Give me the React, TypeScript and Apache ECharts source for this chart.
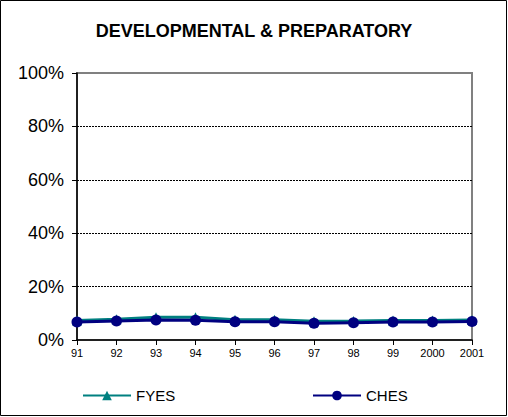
import React, { useEffect, useRef } from "react";
import * as echarts from "echarts";

const title = "DEVELOPMENTAL & PREPARATORY";
const years = ["91", "92", "93", "94", "95", "96", "97", "98", "99", "2000", "2001"];
const fyes = [7.3, 7.8, 8.5, 8.5, 7.6, 7.6, 7.0, 7.1, 7.3, 7.3, 7.5];
const ches = [6.7, 7.1, 7.5, 7.4, 6.8, 6.8, 6.3, 6.5, 6.7, 6.7, 6.9];

export default function App() {
  const ref = useRef<HTMLDivElement>(null);
  useEffect(() => {
    if (!ref.current) return;
    const chart = echarts.init(ref.current, null, { renderer: "svg" });
    chart.setOption({
      animation: false,
      backgroundColor: "#fff",
      textStyle: { fontFamily: "Liberation Sans, Arial, sans-serif" },
      title: {
        text: title,
        left: "center",
        top: 17,
        textStyle: { fontSize: 18, fontWeight: "bold", color: "#000", fontFamily: "Liberation Sans, Arial, sans-serif" },
      },
      graphic: [
        {
          type: "rect",
          shape: { x: 0.5, y: 0.5, width: 506, height: 415 },
          style: { fill: "none", stroke: "#000", lineWidth: 1 },
          silent: true,
        },
      ],
      grid: {
        left: 77,
        right: 36,
        top: 73,
        bottom: 77,
        show: true,
        borderColor: "#808080",
        borderWidth: 2,
        backgroundColor: "#fff",
      },
      legend: [
        {
          data: ["FYES"],
          left: 82,
          top: 388,
          padding: 0,
          itemWidth: 48,
          itemHeight: 12,
          itemGap: 4,
          textStyle: { fontSize: 15, color: "#000" },
        },
        {
          data: ["CHES"],
          left: 312,
          top: 388,
          padding: 0,
          itemWidth: 48,
          itemHeight: 12,
          itemGap: 4,
          textStyle: { fontSize: 15, color: "#000" },
        },
      ],
      xAxis: {
        type: "category",
        data: years,
        boundaryGap: false,
        axisLine: { lineStyle: { color: "#000", width: 1.5 } },
        axisTick: { show: true, alignWithLabel: true, length: 5, lineStyle: { color: "#000" } },
        axisLabel: { fontSize: 11, color: "#000", margin: 7, interval: 0 },
      },
      yAxis: {
        type: "value",
        min: 0,
        max: 100,
        interval: 20,
        axisLine: { show: true, lineStyle: { color: "#000", width: 1.5 } },
        axisTick: { show: true, length: 5, lineStyle: { color: "#000" } },
        axisLabel: { fontSize: 18, color: "#000", formatter: "{value}%", margin: 13 },
        splitLine: {
          show: true,
          showMaxLine: false,
          showMinLine: false,
          lineStyle: { color: "#000", width: 1, type: [2, 1] },
        },
      },
      series: [
        {
          name: "FYES",
          type: "line",
          data: fyes,
          color: "#008080",
          symbol: "triangle",
          symbolSize: 10,
          lineStyle: { width: 3, color: "#008080" },
          itemStyle: { color: "#008080" },
        },
        {
          name: "CHES",
          type: "line",
          data: ches,
          color: "#000080",
          symbol: "circle",
          symbolSize: 11,
          lineStyle: { width: 3, color: "#000080" },
          itemStyle: { color: "#000080" },
        },
      ],
    });
    return () => chart.dispose();
  }, []);
  return (
    <div
      ref={ref}
      style={{ position: "fixed", left: 0, top: 0, width: 508, height: 417 }}
    />
  );
}
